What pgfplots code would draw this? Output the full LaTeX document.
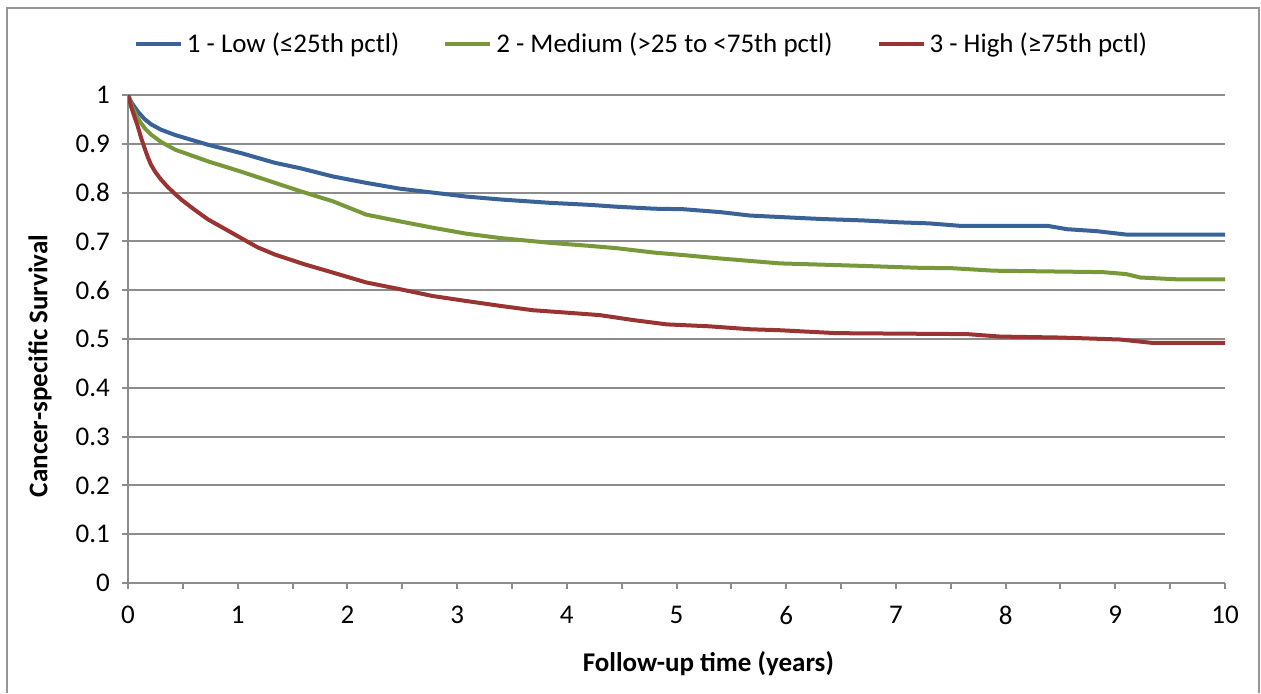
\documentclass[border=0pt]{standalone}
\usepackage{fontspec}
\setmainfont{Carlito}
\usepackage{pgfplots}
\usepackage{pgfplotstable}
\pgfplotsset{compat=1.18}

\definecolor{lowblue}{RGB}{56,98,152}
\definecolor{medgreen}{RGB}{119,153,58}
\definecolor{highred}{RGB}{153,52,50}
\definecolor{gridgray}{RGB}{140,140,140}
\definecolor{framegray}{RGB}{150,150,150}

\pgfplotstableread{
t s
0 1.000
0.03 0.985
0.09 0.966
0.15 0.951
0.21 0.940
0.3 0.929
0.43 0.918
0.73 0.898
1.03 0.881
1.34 0.861
1.57 0.850
1.87 0.833
2.17 0.820
2.48 0.808
2.78 0.800
3.08 0.792
3.39 0.786
3.85 0.779
4.2 0.775
4.46 0.771
4.8 0.767
5.06 0.766
5.4 0.760
5.67 0.753
5.94 0.750
6.31 0.746
6.7 0.743
7.04 0.739
7.3 0.737
7.58 0.732
8.38 0.732
8.56 0.725
8.83 0.721
9.10 0.714
10 0.714
}\lowtab

\pgfplotstableread{
t s
0 1.000
0.04 0.975
0.08 0.956
0.12 0.942
0.16 0.930
0.21 0.919
0.3 0.904
0.43 0.888
0.73 0.864
1.03 0.843
1.34 0.820
1.57 0.803
1.87 0.782
2.17 0.755
2.48 0.741
2.78 0.728
3.08 0.716
3.39 0.707
3.85 0.697
4.2 0.691
4.46 0.686
4.8 0.677
5.06 0.672
5.4 0.665
5.67 0.660
5.94 0.655
6.67 0.650
7.2 0.646
7.52 0.645
7.89 0.640
8.89 0.637
9.1 0.633
9.23 0.626
9.59 0.622
10 0.622
}\medtab

\pgfplotstableread{
t s
0 1.000
0.03 0.975
0.06 0.955
0.09 0.935
0.12 0.912
0.15 0.892
0.18 0.873
0.21 0.857
0.25 0.842
0.30 0.827
0.36 0.812
0.43 0.797
0.49 0.785
0.6 0.766
0.73 0.745
0.88 0.726
1.03 0.707
1.18 0.688
1.34 0.673
1.61 0.653
1.87 0.636
2.17 0.616
2.48 0.602
2.78 0.588
3.08 0.578
3.39 0.568
3.69 0.559
4.0 0.554
4.30 0.549
4.6 0.539
4.91 0.530
5.3 0.526
5.67 0.520
5.94 0.518
6.46 0.512
7.65 0.510
7.95 0.505
8.5 0.503
9.04 0.499
9.34 0.492
10 0.492
}\hightab

\begin{document}
\begin{tikzpicture}
\path[use as bounding box] (0,0) rectangle (630.5pt,346.5pt);
% chart frame (bottom edge falls outside the crop)
\draw[framegray, line width=1pt] (3.5pt,0) -- (3.5pt,342.5pt) -- (629.5pt,342.5pt) -- (629.5pt,0);
\begin{axis}[
    at={(64pt,55pt)}, anchor=south west,
    scale only axis,
    width=548.5pt, height=244pt,
    xmin=0, xmax=10, ymin=0, ymax=1,
    xtick={0,1,...,10},
    ytick={0,0.1,...,1},
    minor x tick num=1,
    axis lines=left,
    axis line style={gridgray, line width=1pt, -},
    ymajorgrids,
    major grid style={gridgray, line width=1pt},
    tick style={gridgray, line width=1pt},
    tick align=outside,
    major tick length=3pt,
    minor tick length=3pt,
    /pgf/number format/assume math mode=true,
    yticklabel style={/pgf/number format/fixed, /pgf/number format/precision=1,
        font=\fontsize{13.5}{16}\selectfont, xshift=-2.5pt},
    xticklabel style={font=\fontsize{13.5}{16}\selectfont, yshift=-5pt},
    xlabel={\textbf{Follow-up time (years)}},
    ylabel={\textbf{Cancer-specific Survival}},
    label style={font=\fontsize{13.5}{16}\selectfont},
    xlabel style={at={(axis description cs:0.529,-0.166)}, anchor=center},
    ylabel style={at={(axis description cs:-0.0802,0.445)}, anchor=center},
    legend columns=3,
    legend style={draw=none, fill=none, at={(0.469,1.1045)}, anchor=center,
        font=\fontsize{13.5}{16}\selectfont,
        /tikz/every even column/.append style={column sep=20pt},
        /tikz/every odd column/.append style={inner xsep=1pt}},
    legend image code/.code={\draw[#1, line width=2pt] (0pt,0pt) -- (22.5pt,0pt);},
]
\addplot[lowblue, line width=2pt] table[x=t, y=s] {\lowtab};
\addlegendentry{1 - Low (≤25th pctl)}
\addplot[medgreen, line width=2pt] table[x=t, y=s] {\medtab};
\addlegendentry{2 - Medium (>25 to <75th pctl)}
\addplot[highred, line width=2pt] table[x=t, y=s] {\hightab};
\addlegendentry{3 - High (≥75th pctl)}
\end{axis}
\end{tikzpicture}
\end{document}
